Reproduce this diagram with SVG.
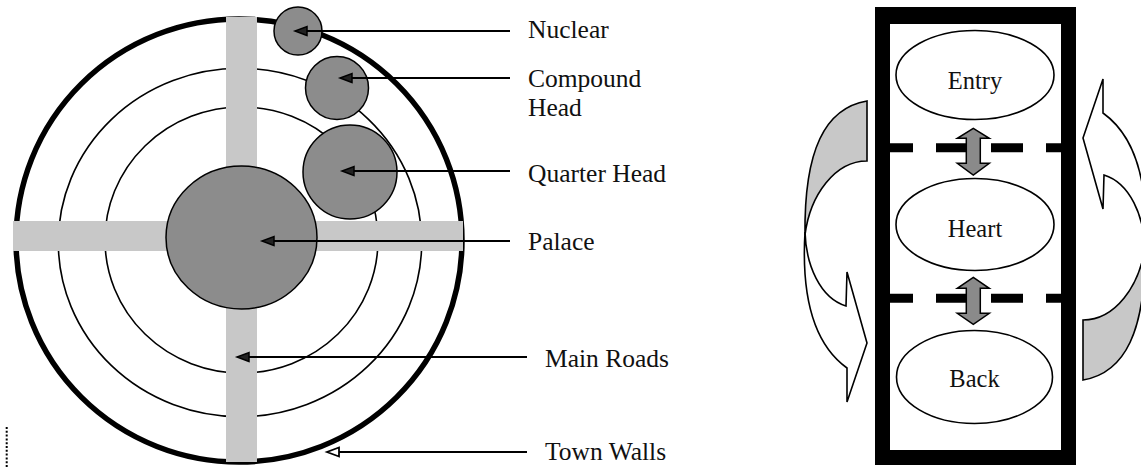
<svg xmlns="http://www.w3.org/2000/svg" width="1141" height="469" viewBox="0 0 1141 469">
<style>
.lbl{font-family:'Liberation Serif','Times New Roman',Tinos,'DejaVu Serif',serif;font-size:25.5px;fill:#111}
.nlbl{font-family:'Liberation Serif','Times New Roman',Tinos,'DejaVu Serif',serif;font-size:24.5px;fill:#111;text-anchor:middle}
.ring{fill:none;stroke:#000;stroke-width:1.6}
.road{fill:#c8c8c8}
.blob{fill:#8c8c8c;stroke:#000;stroke-width:1.5}
.lead{fill:none;stroke:#000;stroke-width:1.8;marker-end:url(#ah)}
.lead2{fill:none;stroke:#000;stroke-width:1.8;marker-end:url(#ah2)}
.oval{fill:#fff;stroke:#000;stroke-width:1.6}
.dash{stroke:#000;stroke-width:9;stroke-dasharray:32 23}
.dbl{fill:#8a8a8a;stroke:#000;stroke-width:1.5}
.curv{stroke:#000;stroke-width:1.6;stroke-linejoin:miter}
</style>
<defs>
<marker id="ah" markerUnits="userSpaceOnUse" markerWidth="16" markerHeight="12" refX="0" refY="4.5" orient="auto" overflow="visible">
<path d="M0,0 L12,4.5 L0,9 Z" fill="#222" stroke="#000" stroke-width="1.5"/>
</marker>
<marker id="ah2" markerUnits="userSpaceOnUse" markerWidth="16" markerHeight="12" refX="0" refY="4.5" orient="auto" overflow="visible">
<path d="M0,0 L12,4.5 L0,9 Z" fill="#fff" stroke="#000" stroke-width="1.8"/>
</marker>
<g id="curved">
<path class="curv" fill="#c8c8c8" d="M867,101 L867,161 C835,161 810,195 805,235 C804,150 825,108 867,101 Z"/>
<path class="curv" fill="#fff" d="M805,232 C806,265 820,298 846,306 L847,272 L867,343 L847,402 L847,368 C815,345 801,300 805,232 Z"/>
</g>
</defs>
<rect width="1141" height="469" fill="#fff"/>

<!-- Left diagram: town plan -->
<g id="town-walls"><ellipse cx="239" cy="240.5" rx="223" ry="221.5" fill="none" stroke="#000" stroke-width="5.5"/></g>
<g id="ring-2"><ellipse class="ring" cx="240" cy="242.5" rx="181.7" ry="174.2"/></g>
<g id="ring-3"><ellipse class="ring" cx="241.5" cy="240" rx="136.5" ry="133"/></g>
<g id="main-roads">
<rect class="road" x="226" y="17" width="31" height="445"/>
<rect class="road" x="13" y="221" width="450" height="30"/>
</g>
<g id="palace"><ellipse class="blob" cx="241.5" cy="237.5" rx="75.5" ry="71.5"/></g>
<g id="quarter-head"><circle class="blob" cx="350" cy="172" r="47"/></g>
<g id="compound-head"><circle class="blob" cx="337" cy="88" r="31.5"/></g>
<g id="nuclear"><circle class="blob" cx="298" cy="31" r="24"/></g>

<g id="connectors">
<line class="lead" x1="510" y1="31" x2="307" y2="31"/>
<line class="lead" x1="510" y1="78" x2="352" y2="78"/>
<line class="lead" x1="510" y1="171" x2="354" y2="171"/>
<line class="lead" x1="510" y1="241" x2="274" y2="241"/>
<line class="lead" x1="527" y1="357" x2="249" y2="357"/>
<line class="lead2" x1="527" y1="452" x2="339" y2="452"/>
</g>

<g id="labels" font-family="Liberation Serif, Times New Roman, serif">
<text class="lbl" x="528" y="38">Nuclear</text>
<text class="lbl" x="528" y="87">Compound</text>
<text class="lbl" x="528" y="116">Head</text>
<text class="lbl" x="528" y="181.5">Quarter Head</text>
<text class="lbl" x="528" y="250">Palace</text>
<text class="lbl" x="545" y="366.5">Main Roads</text>
<text class="lbl" x="545" y="460">Town Walls</text>
</g>

<line x1="6.7" y1="427" x2="6.7" y2="467" stroke="#000" stroke-width="2" stroke-dasharray="2 1.8"/>

<!-- Right diagram -->
<g id="frame"><path fill="#000" fill-rule="evenodd" d="M875,7 H1076 V465 H875 Z M890,24 V450 H1061 V24 Z"/></g>
<g id="dividers">
<line class="dash" x1="881" y1="147.8" x2="1070" y2="147.8"/>
<line class="dash" x1="881" y1="298.3" x2="1070" y2="298.3"/>
</g>
<g id="entry"><ellipse class="oval" cx="975" cy="75" rx="79" ry="44.5"/><text class="nlbl" x="975" y="88.5">Entry</text></g>
<g id="heart"><ellipse class="oval" cx="975" cy="224.5" rx="79" ry="46"/><text class="nlbl" x="975" y="237">Heart</text></g>
<g id="back"><ellipse class="oval" cx="974.5" cy="377" rx="78" ry="46.5"/><text class="nlbl" x="974.5" y="387">Back</text></g>
<g id="flow-arrows">
<path class="dbl" d="M973.3,128.3 L989.3,138.3 L980.3,138.3 L980.3,163.3 L989.3,163.3 L973.3,175 L957.3,163.3 L966.3,163.3 L966.3,138.3 L957.3,138.3 Z"/>
<path class="dbl" d="M973.3,277.3 L989.3,288.3 L980.3,288.3 L980.3,313.3 L989.3,313.3 L973.3,324.3 L957.3,313.3 L966.3,313.3 L966.3,288.3 L957.3,288.3 Z"/>
</g>
<g id="left-cycle"><use href="#curved"/></g>
<g id="right-cycle"><use href="#curved" transform="rotate(180 975 240.5)"/></g>
</svg>
